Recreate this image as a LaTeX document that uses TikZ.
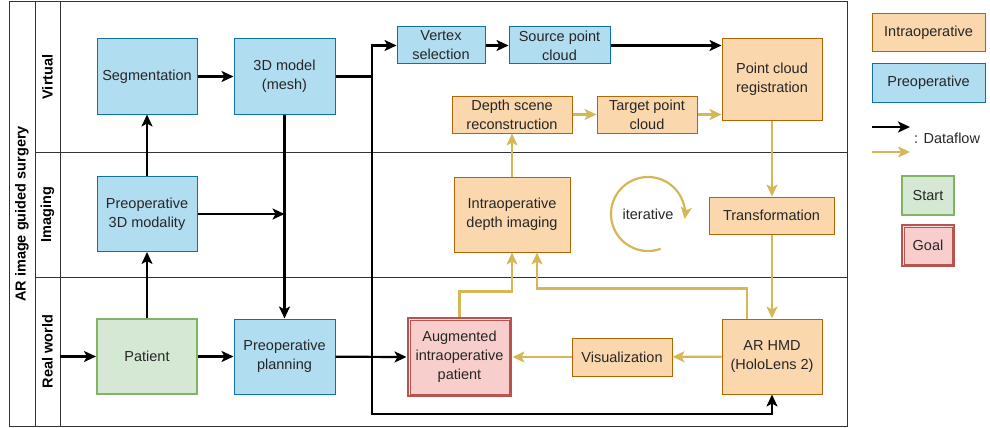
\documentclass[tikz,border=0pt]{standalone}
\usepackage{fontspec}
\setmainfont{Liberation Sans}
\usetikzlibrary{arrows.meta}
\definecolor{preFill}{HTML}{B1DDF0}
\definecolor{preLine}{HTML}{10739E}
\definecolor{intraFill}{HTML}{FAD7AC}
\definecolor{intraLine}{HTML}{B46504}
\definecolor{startFill}{HTML}{D5E8D4}
\definecolor{startLine}{HTML}{82B366}
\definecolor{goalFill}{HTML}{F8CECC}
\definecolor{goalLine}{HTML}{B85450}
\definecolor{flowYellow}{HTML}{D6B656}
\definecolor{frameGray}{HTML}{333333}
\begin{document}
\begin{tikzpicture}[x=1pt,y=1pt,
	font=\fontsize{14.5}{19}\selectfont,
	every node/.style={text=black!85},
	pre/.style={draw=preLine,fill=preFill,line width=1pt,align=center,inner sep=1pt},
	intra/.style={draw=intraLine,fill=intraFill,line width=1pt,align=center,inner sep=1pt},
	start/.style={draw=startLine,fill=startFill,line width=2pt,align=center,inner sep=1pt},
	goal/.style={draw=goalLine,fill=goalFill,line width=1pt,
		preaction={draw=goalLine,line width=6pt},
		preaction={draw=goalFill!60!white,line width=2.6pt},align=center,inner sep=1pt},
	lane/.style={rotate=90,font=\fontsize{14.5}{19}\selectfont\bfseries,text=black},
	flow/.style={line width=2.2pt,-{Stealth[length=12pt,width=11pt,inset=3pt]}},
	dflow/.style={flow,draw=flowYellow}]
	\useasboundingbox (0,0) rectangle (990,-428);
	% swimlanes
	\draw[frameGray,line width=1pt] (9,-2) rectangle (847,-426);
	\draw[frameGray,line width=1pt] (35,-2) -- (35,-426);
	\draw[frameGray,line width=1pt] (60,-2) -- (60,-426);
	\draw[frameGray,line width=1pt] (35,-152) -- (847,-152);
	\draw[frameGray,line width=1pt] (35,-277) -- (847,-277);
	\node[lane] (title) at (22,-214) {AR image guided surgery};
	\node[lane] (virtual) at (47.5,-77) {Virtual};
	\node[lane] (imaging) at (47.5,-214.5) {Imaging};
	\node[lane] (realworld) at (47.5,-351.5) {Real world};
	% preoperative side
	\node[pre,minimum width=100pt,minimum height=75pt] (seg) at (147,-76.5) {Segmentation};
	\node[pre,minimum width=101pt,minimum height=75pt] (model) at (284.5,-76.5) {3D model\\(mesh)};
	\node[pre,minimum width=100pt,minimum height=75pt] (modality) at (147,-214) {Preoperative\\3D modality};
	\node[start,minimum width=100pt,minimum height=75pt] (patient) at (147,-356.5) {Patient};
	\node[pre,minimum width=101pt,minimum height=75pt] (planning) at (284.5,-356.5) {Preoperative\\planning};
	\node[pre,minimum width=88pt,minimum height=37pt] (vertex) at (441,-45.5) {Vertex\\selection};
	\node[pre,minimum width=101pt,minimum height=37pt] (source) at (559.5,-45.5) {Source point\\cloud};
	% intraoperative side
	\node[intra,minimum width=100pt,minimum height=81pt] (registration) at (772,-79.5) {Point cloud\\registration};
	\node[intra,minimum width=120pt,minimum height=37pt] (scene) at (512,-114.5) {Depth scene\\reconstruction};
	\node[intra,minimum width=100pt,minimum height=37pt] (target) at (647,-114.5) {Target point\\cloud};
	\node[intra,minimum width=116pt,minimum height=75pt] (depthimg) at (512,-214.5) {Intraoperative\\depth imaging};
	\node[intra,minimum width=125pt,minimum height=37pt] (transform) at (771.5,-215.5) {Transformation};
	\node[goal,minimum width=99pt,minimum height=74pt] (augmented) at (459.5,-357) {Augmented\\intraoperative\\patient};
	\node[intra,minimum width=100pt,minimum height=38pt] (visual) at (622,-357) {Visualization};
	\node[intra,minimum width=100pt,minimum height=75pt] (hmd) at (772,-356.5) {AR HMD\\(HoloLens 2)};
	\node (iter) at (648,-214) {iterative};
	% black dataflow
	\coordinate (lanein) at (60,-356.5);
	\coordinate (split) at (372,-414);
	\draw[flow] (lanein) -- (patient);
	\draw[flow] (patient) -- (planning);
	\draw[flow] (patient) -- (modality);
	\draw[flow] (modality) -- (seg);
	\draw[flow] (seg) -- (model);
	\draw[flow] (model) -- (planning);
	\draw[flow] (modality.east) -- (modality.east -| model.south);
	\draw[flow] (model.east) -- (model.east -| split) |- (vertex.west);
	\draw[flow] (model.east -| split) -- (split) -| (hmd.south);
	\draw[flow] (planning) -- ([xshift=-3pt]augmented.west);
	\draw[flow] (vertex) -- (source);
	\draw[flow] (source.east) -- (source.east -| registration.west);
	% yellow dataflow
	\draw[dflow] (depthimg) -- (scene);
	\draw[dflow] (scene) -- (target);
	\draw[dflow] (target.east) -- (target.east -| registration.west);
	\draw[dflow] (registration.south) -- (registration.south |- transform.north);
	\draw[dflow] (transform.south -| hmd.north) -- (hmd.north);
	\draw[dflow] (hmd) -- (visual);
	\draw[dflow] (visual) -- ([xshift=3pt]augmented.east);
	\draw[dflow] ([yshift=3pt]augmented.north) -- ++(0,25) -| (depthimg.south);
	\draw[dflow] ([xshift=-25pt]hmd.north) -- ++(0,30) -| ([xshift=25pt]depthimg.south);
	\draw[dflow] ([shift={(290:37pt)}]iter.center) arc[start angle=290,end angle=-8,radius=37pt];
	% legend
	\node[intra,minimum width=113pt,minimum height=38pt] (legintra) at (928.5,-33) {Intraoperative};
	\node[pre,minimum width=113pt,minimum height=38pt] (legpre) at (928.5,-83) {Preoperative};
	\coordinate (blackA) at (872,-127);
	\coordinate (blackB) at (910,-127);
	\coordinate (yellowA) at (872,-152);
	\coordinate (yellowB) at (910,-152);
	\draw[flow] (blackA) -- (blackB);
	\draw[dflow] (yellowA) -- (yellowB);
	\node[right,inner sep=0pt] (legflow) at (914,-138) {: Dataflow};
	\node[start,minimum width=52pt,minimum height=39pt] (legstart) at (928,-195.5) {Start};
	\node[goal,minimum width=48pt,minimum height=37pt] (leggoal) at (928,-245.5) {Goal};
\end{tikzpicture}
\end{document}
